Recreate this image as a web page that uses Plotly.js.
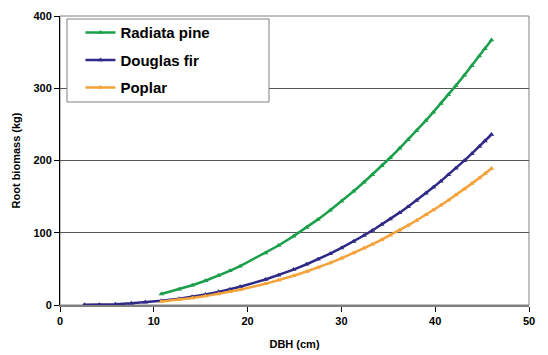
<!DOCTYPE html>
<html>
<head>
<meta charset="utf-8">
<script src="https://cdn.plot.ly/plotly-3.0.1.min.js"></script>
<style>html,body{margin:0;padding:0;background:#fff;}#chart{width:548px;height:355px;}</style>
</head>
<body>
<div id="chart"></div>
<script>
// Data
var seriesNames = ["Radiata pine", "Douglas fir", "Poplar"];
var dbhCommon = [10.8, 12.7, 14.1, 15.5, 16.9, 18.1, 19.2, 21.9, 23.3, 24.9, 26.3, 27.5, 28.8, 30.0, 31.3, 32.4, 33.3, 34.3, 35.2, 36.2, 37.1, 38.0, 39.0, 39.8, 40.6, 41.4, 42.2, 43.1, 43.9, 44.7, 45.3, 46.0];
var dbhDouglasStart = [2.6, 4.2, 5.9, 7.6, 9.1];
var radiataPine = [15.2, 21.7, 27.3, 33.6, 40.7, 47.3, 53.8, 71.9, 82.3, 95.3, 107.4, 118.5, 131.1, 143.5, 157.5, 169.9, 180.4, 192.6, 203.8, 216.8, 228.8, 241.1, 255.3, 266.9, 278.9, 291.1, 303.6, 318.0, 331.1, 344.6, 354.8, 366.9];
var douglasFir = [0.2, 0.5, 1.2, 2.3, 3.7, 5.8, 8.7, 11.4, 14.5, 18.2, 21.6, 25.2, 35.3, 41.3, 49.0, 56.4, 63.2, 71.1, 79.0, 88.0, 96.2, 103.2, 111.3, 118.9, 127.8, 136.1, 144.7, 154.7, 162.9, 171.4, 180.2, 189.2, 199.8, 209.4, 219.4, 227.0, 236.0];
var poplar = [5.0, 7.5, 9.7, 12.3, 15.3, 18.2, 21.1, 29.3, 34.3, 40.5, 46.4, 51.9, 58.3, 64.6, 71.9, 78.4, 84.0, 90.4, 96.5, 103.6, 110.1, 117.0, 124.9, 131.4, 138.1, 145.1, 152.2, 160.5, 168.0, 175.9, 181.8, 189.0];
var xTicks = [0, 10, 20, 30, 40, 50];
var yTicks = [0, 100, 200, 300, 400];
var colors = ["#1a9f4a", "#2e2a86", "#f4a23a"];

var xs = [dbhCommon, dbhDouglasStart.concat(dbhCommon), dbhCommon];
var ys = [radiataPine, douglasFir, poplar];

var traces = seriesNames.map(function (name, i) {
  return {
    type: "scatter",
    mode: "lines+markers",
    name: name,
    legendgroup: "g" + i,
    x: xs[i],
    y: ys[i],
    line: {color: colors[i], width: 2.5},
    marker: {color: colors[i], size: 5, symbol: "triangle-up"}
  };
});

var layout = {
  width: 548,
  height: 355,
  margin: {l: 60, r: 19, t: 16, b: 50},
  paper_bgcolor: "#ffffff",
  plot_bgcolor: "#ffffff",
  font: {family: "Arial, 'Liberation Sans', sans-serif", color: "#000", size: 11},
  showlegend: true,
  legend: {
    x: 0.0436, y: 0.999, xanchor: "left", yanchor: "top",
    bgcolor: "rgba(0,0,0,0)", borderwidth: 0,
    font: {size: 15, family: "Arial, 'Liberation Sans', sans-serif", weight: "bold"},
    traceorder: "grouped", tracegroupgap: 5,
    itemwidth: 30
  },
  xaxis: {
    range: [0, 50],
    tickvals: xTicks,
    ticktext: xTicks.map(String),
    ticks: "outside", ticklen: 5, tickcolor: "#000",
    showgrid: false, zeroline: false,
    showline: true, linecolor: "#808080", linewidth: 2,
    tickfont: {size: 11, weight: "bold"},
    title: {text: "DBH (cm)", font: {size: 11, weight: "bold"}, standoff: 14}
  },
  yaxis: {
    range: [0, 400],
    tickvals: yTicks,
    ticktext: yTicks.map(String),
    ticks: "outside", ticklen: 5, tickcolor: "#000",
    showgrid: true, gridcolor: "#555555", gridwidth: 1,
    zeroline: false,
    showline: true, linecolor: "#000", linewidth: 1,
    tickfont: {size: 11, weight: "bold"},
    title: {text: "Root biomass (kg)", font: {size: 11, weight: "bold"}, standoff: 10}
  },
  shapes: [
    {type: "rect", xref: "paper", yref: "paper", x0: 0, x1: 1, y0: 0, y1: 1,
     line: {color: "#808080", width: 1}, fillcolor: "rgba(0,0,0,0)", layer: "below"},
    {type: "rect", xref: "paper", yref: "paper", x0: 0.0149, x1: 0.4456, y0: 0.7024, y1: 0.9896,
     line: {color: "#808080", width: 1}, fillcolor: "#ffffff", layer: "above"}
  ]
};

Plotly.newPlot("chart", traces, layout, {displayModeBar: false, staticPlot: true});
</script>
</body>
</html>
